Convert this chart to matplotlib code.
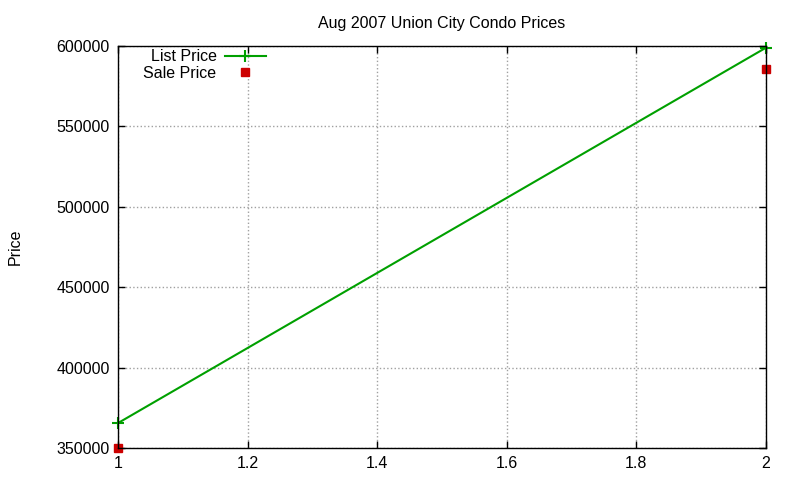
import matplotlib
matplotlib.use('Agg')
import matplotlib.pyplot as plt
from matplotlib.ticker import FuncFormatter

plt.rcParams['font.family'] = ['Liberation Sans', 'DejaVu Sans']
plt.rcParams['font.size'] = 11.5

# 데이터
x_vals = [1, 2]
list_price = [365500, 599000]
sale_price = [350000, 585500]
x_ticks = [1, 1.2, 1.4, 1.6, 1.8, 2]
y_ticks = [350000, 400000, 450000, 500000, 550000, 600000]

fig = plt.figure(figsize=(8, 4.8), dpi=100)
ax = fig.add_axes([0.1475, 0.0667, 0.81, 0.8373])

ax.plot(x_vals, list_price, color='#00a000', linewidth=1.5, marker='+',
        markersize=8, markeredgewidth=1.5, label='List Price', clip_on=False)
ax.plot(x_vals, sale_price, color='#cc0000', linestyle='none', marker='s',
        markersize=6, label='Sale Price', clip_on=False)

ax.set_xlim(1, 2)
ax.set_ylim(350000, 600000)
ax.set_xticks(x_ticks)
ax.set_yticks(y_ticks)
ax.xaxis.set_major_formatter(FuncFormatter(lambda v, p: '%g' % v))
ax.yaxis.set_major_formatter(FuncFormatter(lambda v, p: '%d' % v))
ax.tick_params(direction='in', top=True, right=True, length=5, width=1, pad=6)
ax.grid(True, color='#a0a0a0', linestyle=':', linewidth=1)
for s in ax.spines.values():
    s.set_linewidth(1)

ax.set_title('Aug 2007 Union City Condo Prices', fontsize=11.5, pad=13)
ax.set_ylabel('Price', labelpad=24)

ax.legend(loc='upper left', bbox_to_anchor=(0.022, 1.02), markerfirst=False,
          frameon=False, handlelength=2.6, handletextpad=0.5, labelspacing=0.1,
          borderaxespad=0.3)

plt.savefig('out.png', dpi=100)
